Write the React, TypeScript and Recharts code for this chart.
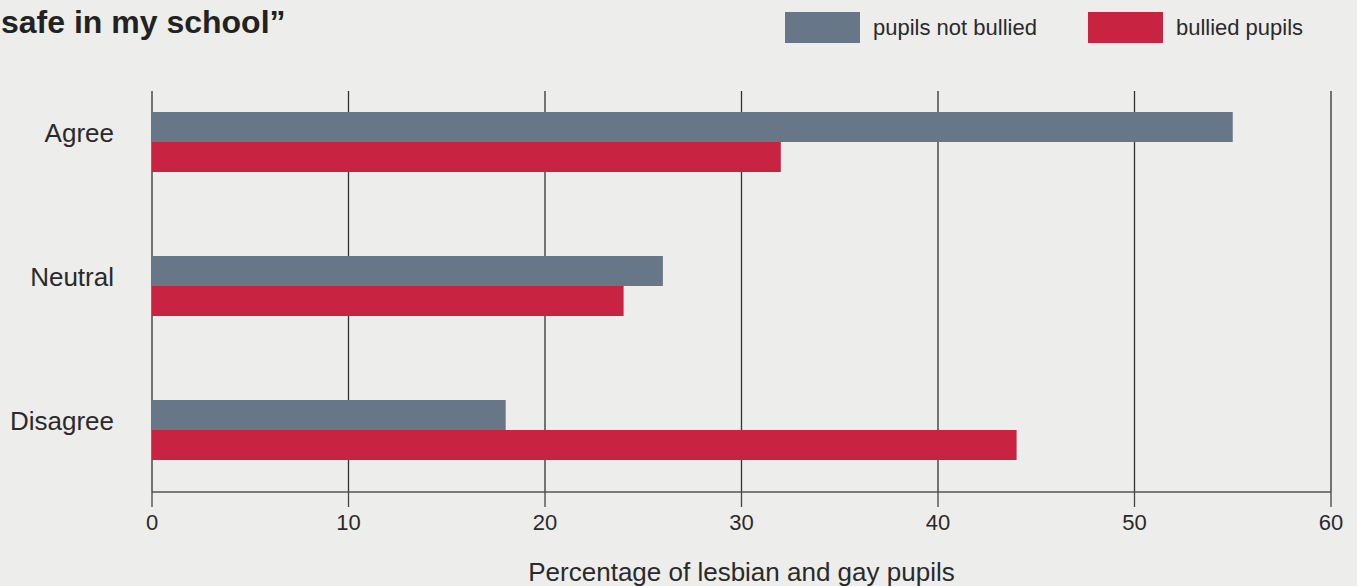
import React from 'react';
import { BarChart, Bar, XAxis, YAxis, CartesianGrid, Legend } from 'recharts';

const categories = ['Agree', 'Neutral', 'Disagree'];
const notBullied = [55, 26, 18];
const bullied = [32, 24, 44];
const seriesNames = ['pupils not bullied', 'bullied pupils'];
const xTicks = [0, 10, 20, 30, 40, 50, 60];

const data = categories.map((name, i) => ({
    name,
    notBullied: notBullied[i],
    bullied: bullied[i],
}));

const FONT = '"Liberation Sans", Arial, Helvetica, sans-serif';
const GREY = '#687788';
const RED = '#C82340';
const BG = '#EDEDEB';
const INK = '#2a2a2a';

const LegendContent = (props: any) => {
    // keep the series order, recharts sorts the payload by name otherwise
    const items = [...(props.payload || [])].sort(
        (a: any, b: any) => seriesNames.indexOf(a.value) - seriesNames.indexOf(b.value)
    );
    return (
        <div style={{ display: 'flex', alignItems: 'center', fontFamily: FONT, fontSize: 22, color: INK }}>
            {items.map((it: any, i: number) => (
                <div key={i} style={{ display: 'flex', alignItems: 'center', marginRight: i === 0 ? 51 : 0 }}>
                    <div style={{ width: 75, height: 31, background: it.color, marginRight: 13 }} />
                    <span>{it.value}</span>
                </div>
            ))}
        </div>
    );
};

export default function App() {
    return (
        <div style={{ position: 'absolute', left: 0, top: 0, width: 1357, height: 586, background: BG, overflow: 'hidden' }}>
            <div
                style={{
                    position: 'absolute',
                    left: 1,
                    top: 4,
                    fontFamily: FONT,
                    fontWeight: 'bold',
                    fontSize: 32,
                    color: '#222',
                    whiteSpace: 'nowrap',
                }}
            >
                safe in my school”
            </div>
            <BarChart
                width={1357}
                height={586}
                data={data}
                layout="vertical"
                margin={{ top: 70, right: 26, left: 0, bottom: 0 }}
                barSize={30}
                barGap={0}
                barCategoryGap={0}
            >
                <CartesianGrid
                    horizontal={false}
                    stroke="#333"
                    strokeWidth={1.3}
                    strokeDasharray="0 21 401 40"
                />
                <XAxis
                    type="number"
                    domain={[0, 60]}
                    ticks={xTicks}
                    height={84}
                    tickSize={15}
                    tickMargin={0}
                    axisLine={{ stroke: '#555', strokeWidth: 1.5, transform: 'translate(0,-10)' }}
                    tickLine={{ stroke: '#444', strokeWidth: 1.3, transform: 'translate(0,-10)' }}
                    tick={{ fill: INK, fontSize: 22, fontFamily: FONT, dy: -3 }}
                    label={{
                        value: 'Percentage of lesbian and gay pupils',
                        position: 'insideBottom',
                        offset: 5,
                        fill: INK,
                        fontSize: 26,
                        fontFamily: FONT,
                    }}
                />
                <YAxis
                    type="category"
                    dataKey="name"
                    width={152}
                    axisLine={false}
                    tickLine={false}
                    tickSize={0}
                    tickMargin={38}
                    tick={{ fill: INK, fontSize: 26, fontFamily: FONT, dy: -9 }}
                />
                <Legend
                    verticalAlign="middle"
                    align="center"
                    layout="horizontal"
                    wrapperStyle={{ top: 12, left: 785, width: 'auto' }}
                    content={LegendContent}
                />
                <Bar dataKey="notBullied" name={seriesNames[0]} fill={GREY} isAnimationActive={false} />
                <Bar dataKey="bullied" name={seriesNames[1]} fill={RED} isAnimationActive={false} />
            </BarChart>
        </div>
    );
}
